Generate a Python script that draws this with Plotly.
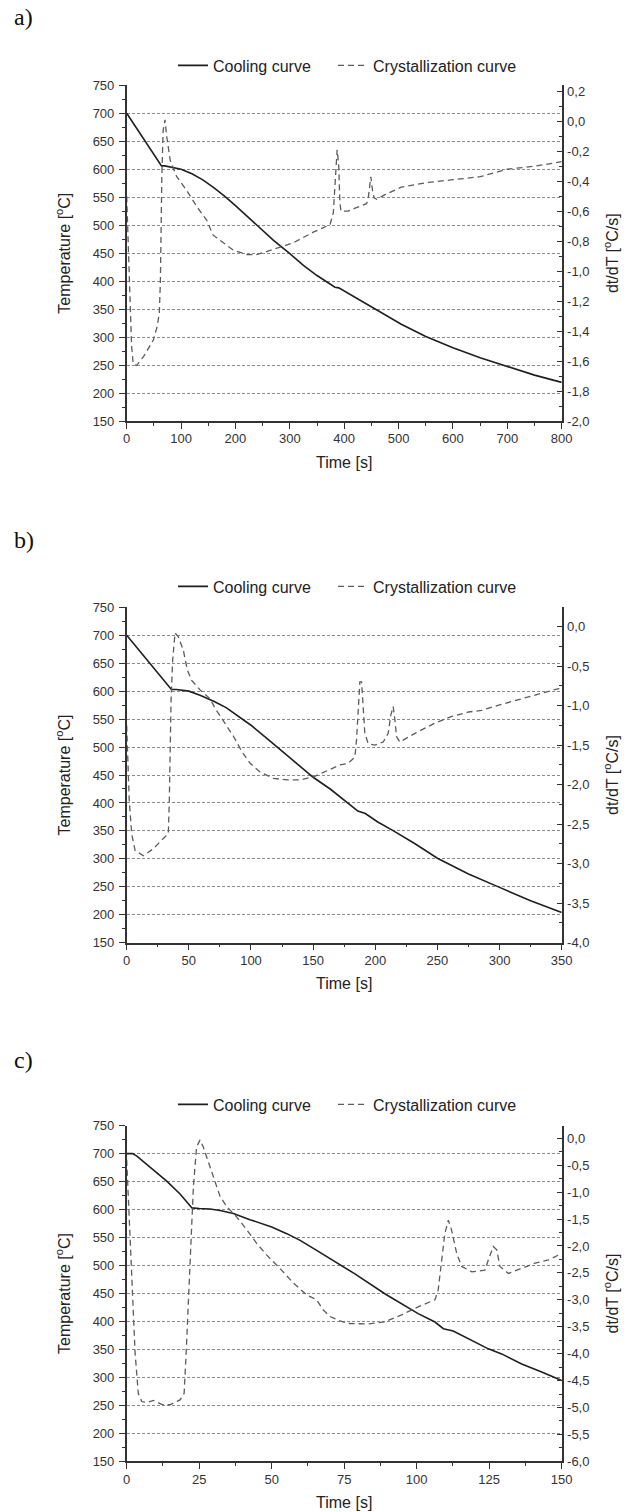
import plotly.graph_objects as go

# ---------------- data ----------------
# panel a
t_a_cool = [0, 64, 70, 80, 100, 120, 140, 160, 180, 200, 220, 240, 270, 300, 325, 350, 374, 383, 390, 420, 450, 456, 505, 550, 600, 650, 700, 750, 800]
T_a_cool = [700, 606, 606, 604, 600, 592, 581, 567, 552, 535, 517, 499, 473, 449, 428, 410, 394, 389, 388, 371, 353, 350, 323, 301, 281, 263, 247, 232, 219]
t_a_cry = [0, 3, 5, 9, 12, 18, 31, 49, 56, 60, 62, 63, 64.5, 67, 70.5, 73.5, 80, 92, 110, 129, 147, 159, 178, 196, 221, 239, 257, 282, 307, 343, 374, 380, 383, 387, 390, 392, 394, 407, 420, 441, 444, 449, 452, 455, 460, 475, 505, 550, 600, 650, 700, 750, 800]
v_a_cry = [-0.5, -0.8, -1.06, -1.5, -1.62, -1.63, -1.57, -1.46, -1.37, -1.28, -1.06, -0.72, -0.39, -0.06, 0.01, -0.1, -0.26, -0.37, -0.46, -0.57, -0.66, -0.76, -0.81, -0.86, -0.89, -0.89, -0.87, -0.84, -0.81, -0.74, -0.69, -0.61, -0.39, -0.19, -0.3, -0.54, -0.6, -0.6, -0.58, -0.55, -0.52, -0.37, -0.46, -0.51, -0.52, -0.49, -0.44, -0.41, -0.39, -0.37, -0.32, -0.3, -0.27]

# panel b
t_b_cool = [0, 36, 40, 50, 59, 70, 80, 91, 100, 113, 125, 140, 150, 164, 172, 178, 186, 192, 202, 214, 218, 232, 250, 275, 300, 325, 350]
T_b_cool = [700, 603, 603, 600, 592.5, 582, 570.5, 554, 539, 515, 493, 466, 446, 424.5, 410, 399.5, 385.5, 381, 366, 351, 346, 327, 301, 273, 249, 225, 204]
t_b_cry = [0, 1, 2, 4, 6.7, 13.4, 21.5, 29.5, 33.5, 34.3, 34.9, 35.7, 37, 38.9, 41.6, 45.6, 48.8, 52.3, 59, 67, 71, 78, 86, 92.6, 99.3, 107.3, 118, 129, 139.5, 150.3, 163.7, 171.7, 178.2, 183.6, 184.9, 186.3, 187.6, 189, 190.3, 191.6, 194.3, 199.7, 206.4, 210.4, 212.5, 214.4, 215.8, 217.1, 219.8, 232, 248, 261, 275, 285.5, 300, 318, 334, 346, 350]
v_b_cry = [-1.25, -1.8, -2.19, -2.62, -2.83, -2.9, -2.81, -2.68, -2.62, -2.19, -1.56, -0.93, -0.42, -0.08, -0.13, -0.3, -0.55, -0.68, -0.8, -0.91, -1.03, -1.2, -1.39, -1.58, -1.73, -1.84, -1.92, -1.94, -1.94, -1.9, -1.81, -1.75, -1.73, -1.65, -1.44, -1.06, -0.7, -0.7, -1.06, -1.35, -1.48, -1.5, -1.46, -1.35, -1.12, -1.01, -1.18, -1.39, -1.46, -1.35, -1.22, -1.14, -1.08, -1.06, -0.99, -0.91, -0.84, -0.79, -0.78]

# panel c
t_c_cool = [0, 2, 3.4, 8, 13.8, 18.4, 22.5, 25, 28.7, 32.2, 36.8, 42.5, 50, 55.2, 59.8, 65.5, 71.3, 78.7, 89, 100.5, 106.3, 109.2, 112.6, 117.8, 124.7, 129.3, 136.2, 143.1, 150]
T_c_cool = [700, 700, 696, 676, 651, 628, 603, 602, 601, 598.5, 593, 582, 569, 557, 545, 527, 509, 485, 449.5, 414, 399, 387, 383, 369, 351, 342, 324, 309.5, 294.5]
t_c_cry = [0, 0.9, 1.7, 2.9, 4, 5.2, 6.9, 9.2, 12.4, 14.9, 18.4, 19.8, 20.5, 21.3, 22.1, 23, 24.1, 25.3, 26.4, 28.7, 30.5, 32.2, 34.5, 37.9, 41.4, 44.8, 48.3, 52.9, 57.5, 62.1, 65.5, 67.8, 70.1, 73, 76.4, 83.3, 89, 94.8, 100.5, 106.3, 107.4, 108.6, 109.7, 110.9, 112, 113.8, 115.5, 119, 123.5, 124.7, 126.4, 127.6, 128.7, 131.6, 136.2, 140.8, 145.4, 150]
v_c_cry = [-0.4, -1.52, -2.76, -3.99, -4.74, -4.89, -4.91, -4.87, -4.95, -4.95, -4.86, -4.74, -3.99, -3.06, -2.14, -0.9, -0.16, -0.03, -0.16, -0.53, -0.84, -1.08, -1.27, -1.46, -1.7, -1.95, -2.17, -2.42, -2.69, -2.91, -3.0, -3.19, -3.31, -3.38, -3.44, -3.45, -3.41, -3.28, -3.13, -3.0, -2.82, -2.32, -1.77, -1.52, -1.7, -2.14, -2.38, -2.48, -2.45, -2.26, -2.01, -2.07, -2.38, -2.51, -2.42, -2.32, -2.26, -2.14]

# tick labels
left_vals = [150, 200, 250, 300, 350, 400, 450, 500, 550, 600, 650, 700, 750]
right_a_vals = [0.2, 0.0, -0.2, -0.4, -0.6, -0.8, -1.0, -1.2, -1.4, -1.6, -1.8, -2.0]
right_a_text = ["0,2", "0,0", "-0,2", "-0,4", "-0,6", "-0,8", "-1,0", "-1,2", "-1,4", "-1,6", "-1,8", "-2,0"]
right_b_vals = [0.0, -0.5, -1.0, -1.5, -2.0, -2.5, -3.0, -3.5, -4.0]
right_b_text = ["0,0", "-0,5", "-1,0", "-1,5", "-2,0", "-2,5", "-3,0", "-3,5", "-4,0"]
right_c_vals = [0.0, -0.5, -1.0, -1.5, -2.0, -2.5, -3.0, -3.5, -4.0, -4.5, -5.0, -5.5, -6.0]
right_c_text = ["0,0", "-0,5", "-1,0", "-1,5", "-2,0", "-2,5", "-3,0", "-3,5", "-4,0", "-4,5", "-5,0", "-5,5", "-6,0"]

panel_labels = ["a)", "b)", "c)"]
series_names = ["Cooling curve", "Crystallization curve"]

# ---------------- layout geometry ----------------
W, H = 627, 1512
FONT = "Liberation Sans, Arial, sans-serif"
AX = "#333333"
x_dom = [126.7 / W, 561.7 / W]
legend_x = [173, 333]
panels = [
    dict(top=85.3, bot=421.0, xr=[0, 800], xd=100, xm=50, rr=[-2.0, 0.24], rv=right_a_vals, rt=right_a_text, rm=0.1,
         t1=t_a_cool, y1=T_a_cool, t2=t_a_cry, y2=v_a_cry, leg=65.5, lab=17.5),
    dict(top=607.3, bot=942.7, xr=[0, 350], xd=50, xm=25, rr=[-4.0, 0.245], rv=right_b_vals, rt=right_b_text, rm=0.25,
         t1=t_b_cool, y1=T_b_cool, t2=t_b_cry, y2=v_b_cry, leg=586.5, lab=540),
    dict(top=1125.7, bot=1461.3, xr=[0, 150], xd=25, xm=12.5, rr=[-6.0, 0.234], rv=right_c_vals, rt=right_c_text, rm=0.25,
         t1=t_c_cool, y1=T_c_cool, t2=t_c_cry, y2=v_c_cry, leg=1104.5, lab=1060),
]

fig = go.Figure()
layout = dict(
    width=W, height=H, margin=dict(l=0, r=0, t=0, b=0, autoexpand=False),
    paper_bgcolor="white", plot_bgcolor="white",
    font=dict(family=FONT, color="#222222", size=13),
    showlegend=True, annotations=[],
)

for i, p in enumerate(panels):
    xn = "x" if i == 0 else f"x{i+1}"
    yl = 2 * i + 1
    yr = 2 * i + 2
    yln = "y" if yl == 1 else f"y{yl}"
    yrn = f"y{yr}"
    leg1 = "legend" if i == 0 else f"legend{2 * i + 1}"
    leg2 = f"legend{2 * i + 2}"
    ydom = [1 - p["bot"] / H, 1 - p["top"] / H]

    fig.add_trace(go.Scatter(x=p["t1"], y=p["y1"], mode="lines", name=series_names[0],
                             line=dict(color="#1f1f1f", width=1.6), xaxis=xn, yaxis=yln, legend=leg1))
    fig.add_trace(go.Scatter(x=p["t2"], y=p["y2"], mode="lines", name=series_names[1],
                             line=dict(color="#5c5c5c", width=1.3, dash="6px,4px"), xaxis=xn, yaxis=yrn, legend=leg2))

    xkey = "xaxis" if i == 0 else f"xaxis{i+1}"
    layout[xkey] = dict(
        domain=x_dom, anchor=yln, range=p["xr"], dtick=p["xd"], tick0=0,
        showline=True, linecolor=AX, linewidth=1.5, mirror=False,
        ticks="outside", ticklen=6, tickwidth=1.2, tickcolor=AX,
        minor=dict(dtick=p["xm"], tick0=0, ticks="outside", ticklen=3, tickwidth=1.2, tickcolor=AX, showgrid=False),
        showgrid=False, zeroline=False, tickfont=dict(size=13, color="#333333"),
        ticklabelstandoff=-1,
        title=dict(text="Time [s]", font=dict(size=16, color="#222222"), standoff=11),
    )
    ylkey = "yaxis" if yl == 1 else f"yaxis{yl}"
    layout[ylkey] = dict(
        domain=ydom, anchor=xn, range=[150, 750], tickmode="array", tickvals=left_vals,
        showline=True, linecolor=AX, linewidth=1.5,
        ticks="outside", ticklen=6, tickwidth=1.2, tickcolor=AX,
        minor=dict(dtick=25, tick0=150, ticks="outside", ticklen=3, tickwidth=1.2, tickcolor=AX, showgrid=False),
        showgrid=True, gridcolor="#8a8a8a", gridwidth=1, griddash="3px,2px",
        zeroline=False, tickfont=dict(size=13, color="#333333"), ticklabelstandoff=2,
        title=dict(text="Temperature [<sup>o</sup>C]", font=dict(size=16, color="#222222"), standoff=18),
    )
    yrkey = f"yaxis{yr}"
    layout[yrkey] = dict(
        overlaying=yln, side="right", anchor=xn, range=p["rr"],
        tickmode="array", tickvals=p["rv"], ticktext=p["rt"],
        showline=True, linecolor=AX, linewidth=1.5,
        ticks="inside", ticklen=5, tickwidth=1.2, tickcolor=AX,
        minor=dict(dtick=p["rm"], tick0=0, ticks="inside", ticklen=3, tickwidth=1.2, tickcolor=AX, showgrid=False),
        showgrid=False, zeroline=False, tickfont=dict(size=13, color="#333333"), ticklabelstandoff=1,
        title=dict(text="dt/dT [<sup>o</sup>C/s]", font=dict(size=16, color="#222222"), standoff=18),
    )
    for lg, lx in ((leg1, legend_x[0]), (leg2, legend_x[1])):
        layout[lg] = dict(
            orientation="h", x=lx / W, xanchor="left", y=1 - p["leg"] / H, yanchor="middle",
            font=dict(size=16, color="#222222", family=FONT), bgcolor="rgba(0,0,0,0)",
            itemwidth=30,
        )
    layout["annotations"].append(dict(
        text=panel_labels[i], xref="paper", yref="paper", x=12 / W, y=1 - p["lab"] / H,
        xanchor="left", yanchor="middle", showarrow=False,
        font=dict(family="Liberation Serif, Times New Roman, serif", size=24, color="#111111"),
    ))

fig.update_layout(**layout)
fig.write_html("out.html", config={"displayModeBar": False},
               post_script="document.body.style.margin='0px';document.body.style.padding='0px';")
